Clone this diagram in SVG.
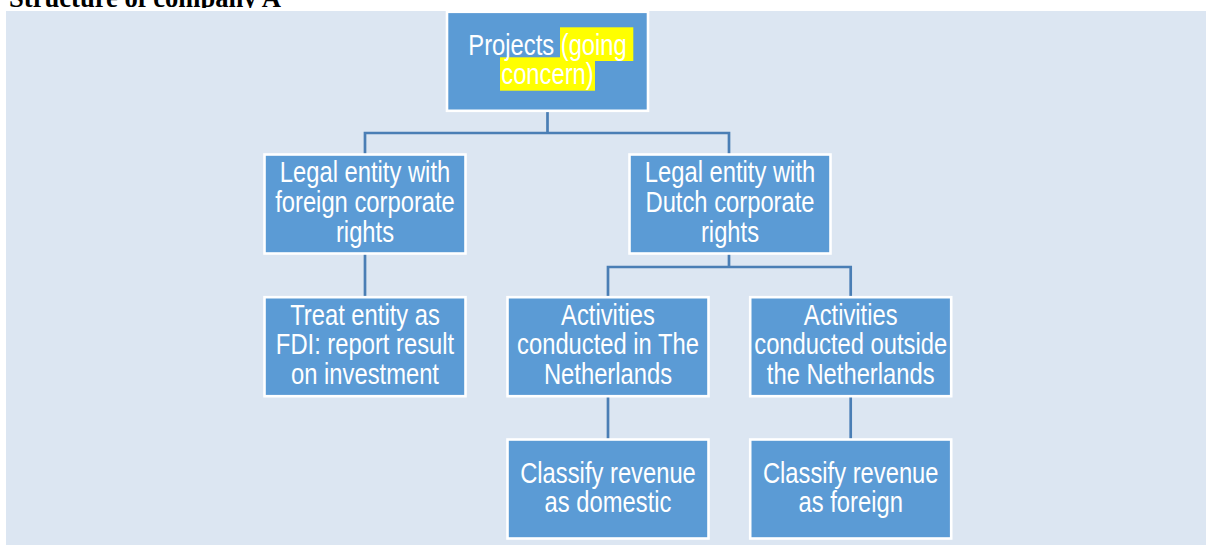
<svg xmlns="http://www.w3.org/2000/svg" width="1206" height="545" viewBox="0 0 1206 545">
  <style>
    .box { fill: #5b9bd5; stroke: #ffffff; stroke-width: 2.6; }
    .lbl { font-family: "Liberation Sans", Arial, sans-serif; font-size: 29px; fill: #ffffff; text-anchor: middle; }
    .lbls { font-family: "Liberation Sans", Arial, sans-serif; font-size: 29px; fill: #ffffff; text-anchor: start; }
    .conn { fill: none; stroke: #4a7eb5; stroke-width: 2.7; }
    .hl { fill: #ffff00; }
    .title { font-family: "Liberation Serif", "Times New Roman", serif; font-weight: bold; font-size: 26.6px; fill: #000000; }
  </style>
  <defs>
    <clipPath id="titleClip"><rect x="0" y="0" width="1206" height="8"/></clipPath>
  </defs>
  <rect x="0" y="0" width="1206" height="545" fill="#ffffff"/>
  <text class="title" x="9" y="7" clip-path="url(#titleClip)">Structure of company A</text>
  <rect x="6" y="11" width="1200" height="534" fill="#dce6f2"/>

  <g id="connectors">
    <path class="conn" d="M547.5,111 V133 M365,154.5 V133 H729 V154.5"/>
    <path class="conn" d="M365,253.5 V297.2"/>
    <path class="conn" d="M729,253.5 V267 M608,297.2 V267 H850.7 V297.2"/>
    <path class="conn" d="M608,396 V439.5"/>
    <path class="conn" d="M850.7,396 V439.5"/>
  </g>

  <g id="node-projects">
    <rect class="box" x="447" y="11.8" width="201" height="99"/>
    <rect class="hl" x="560" y="27.3" width="73.3" height="33.7"/>
    <rect class="hl" x="500" y="57.3" width="95" height="33.4"/>
    <text class="lbls" transform="translate(468.3,54.5) scale(0.82,1)">Projects (going</text>
    <text class="lbl" transform="translate(547.5,84) scale(0.82,1)">concern)</text>
  </g>

  <g id="node-foreign-entity">
    <rect class="box" x="264.5" y="154.5" width="201" height="99"/>
    <text class="lbl" transform="translate(365,182.3) scale(0.82,1)">Legal entity with</text>
    <text class="lbl" transform="translate(365,212) scale(0.82,1)">foreign corporate</text>
    <text class="lbl" transform="translate(365,241.7) scale(0.82,1)">rights</text>
  </g>

  <g id="node-dutch-entity">
    <rect class="box" x="629.5" y="154.5" width="201" height="99"/>
    <text class="lbl" transform="translate(730,182.3) scale(0.82,1)">Legal entity with</text>
    <text class="lbl" transform="translate(730,212) scale(0.82,1)">Dutch corporate</text>
    <text class="lbl" transform="translate(730,241.7) scale(0.82,1)">rights</text>
  </g>

  <g id="node-fdi">
    <rect class="box" x="264.5" y="297.2" width="201" height="99"/>
    <text class="lbl" transform="translate(365,324.7) scale(0.82,1)">Treat entity as</text>
    <text class="lbl" transform="translate(365,354.4) scale(0.82,1)">FDI: report result</text>
    <text class="lbl" transform="translate(365,384.1) scale(0.82,1)">on investment</text>
  </g>

  <g id="node-activities-nl">
    <rect class="box" x="507.5" y="297.2" width="201" height="99"/>
    <text class="lbl" transform="translate(608,324.7) scale(0.82,1)">Activities</text>
    <text class="lbl" transform="translate(608,354.4) scale(0.82,1)">conducted in The</text>
    <text class="lbl" transform="translate(608,384.1) scale(0.82,1)">Netherlands</text>
  </g>

  <g id="node-activities-outside">
    <rect class="box" x="750.2" y="297.2" width="201" height="99"/>
    <text class="lbl" transform="translate(850.7,324.7) scale(0.82,1)">Activities</text>
    <text class="lbl" transform="translate(850.7,354.4) scale(0.82,1)">conducted outside</text>
    <text class="lbl" transform="translate(850.7,384.1) scale(0.82,1)">the Netherlands</text>
  </g>

  <g id="node-domestic">
    <rect class="box" x="507.5" y="439.5" width="201" height="99"/>
    <text class="lbl" transform="translate(608,482.5) scale(0.82,1)">Classify revenue</text>
    <text class="lbl" transform="translate(608,512) scale(0.82,1)">as domestic</text>
  </g>

  <g id="node-foreign">
    <rect class="box" x="750.2" y="439.5" width="201" height="99"/>
    <text class="lbl" transform="translate(850.7,482.5) scale(0.82,1)">Classify revenue</text>
    <text class="lbl" transform="translate(850.7,512) scale(0.82,1)">as foreign</text>
  </g>
</svg>
